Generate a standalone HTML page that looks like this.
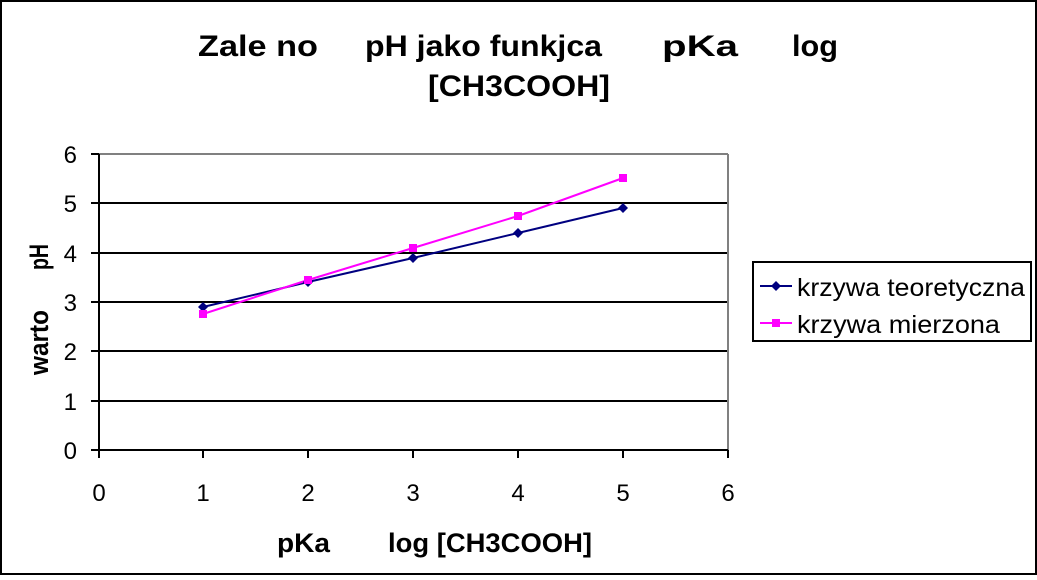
<!DOCTYPE html><html><head><style>body{margin:0;background:#fff}</style></head><body>
<svg width="1037" height="575" xmlns="http://www.w3.org/2000/svg" font-family="Liberation Sans, Arial, sans-serif">
<rect x="1" y="1" width="1035" height="573" fill="#fff" stroke="#000" stroke-width="2"/>
<g font-weight="bold" font-size="30">
<text x="198" y="56" textLength="120" lengthAdjust="spacingAndGlyphs">Zale  no</text>
<text x="365" y="56" textLength="237" lengthAdjust="spacingAndGlyphs">pH jako funkjca</text>
<text x="662" y="56" textLength="76" lengthAdjust="spacingAndGlyphs">pKa</text>
<text x="792" y="56" textLength="46" lengthAdjust="spacingAndGlyphs">log</text>
<text x="428" y="96" textLength="182" lengthAdjust="spacingAndGlyphs">[CH3COOH]</text>
<text x="277" y="552" font-size="27" textLength="53" lengthAdjust="spacingAndGlyphs">pKa</text>
<text x="388" y="552" font-size="27" textLength="204" lengthAdjust="spacingAndGlyphs">log [CH3COOH]</text>
<text transform="translate(48,375) rotate(-90)" font-size="27" textLength="65" lengthAdjust="spacingAndGlyphs">warto</text>
<text transform="translate(48,270) rotate(-90)" font-size="27" textLength="26" lengthAdjust="spacingAndGlyphs">pH</text>
</g>
<line x1="99" y1="154" x2="728" y2="154" stroke="#808080" stroke-width="2"/>
<g stroke="#000" stroke-width="2">
<line x1="99" y1="203" x2="728" y2="203"/><line x1="99" y1="253" x2="728" y2="253"/><line x1="99" y1="302" x2="728" y2="302"/><line x1="99" y1="351" x2="728" y2="351"/><line x1="99" y1="401" x2="728" y2="401"/>
<line x1="728" y1="154" x2="728" y2="450" stroke="#808080"/>
<line x1="99" y1="154" x2="99" y2="458"/><line x1="91" y1="450" x2="728" y2="450"/>
<line x1="91" y1="154" x2="99" y2="154"/><line x1="91" y1="203" x2="99" y2="203"/><line x1="91" y1="253" x2="99" y2="253"/><line x1="91" y1="302" x2="99" y2="302"/><line x1="91" y1="351" x2="99" y2="351"/><line x1="91" y1="401" x2="99" y2="401"/>
<line x1="203" y1="450" x2="203" y2="458"/><line x1="308" y1="450" x2="308" y2="458"/><line x1="413" y1="450" x2="413" y2="458"/><line x1="518" y1="450" x2="518" y2="458"/><line x1="623" y1="450" x2="623" y2="458"/><line x1="728" y1="450" x2="728" y2="458"/>
</g>
<g font-size="24" text-anchor="end">
<text x="77" y="163">6</text><text x="77" y="212">5</text><text x="77" y="262">4</text><text x="77" y="311">3</text><text x="77" y="360">2</text><text x="77" y="410">1</text><text x="77" y="459">0</text>
</g>
<g font-size="24" text-anchor="middle">
<text x="99" y="501">0</text><text x="203" y="501">1</text><text x="308" y="501">2</text><text x="413" y="501">3</text><text x="518" y="501">4</text><text x="623" y="501">5</text><text x="728" y="501">6</text>
</g>
<polyline points="203,307 308,282 413,258 518,233 623,208" fill="none" stroke="#000080" stroke-width="2"/>
<polyline points="203,314 308,280 413,248 518,216 623,178" fill="none" stroke="#ff00ff" stroke-width="2"/>
<g fill="#000080"><path d="M203,302l5,5-5,5-5-5z"/><path d="M308,277l5,5-5,5-5-5z"/><path d="M413,253l5,5-5,5-5-5z"/><path d="M518,228l5,5-5,5-5-5z"/><path d="M623,203l5,5-5,5-5-5z"/></g>
<g fill="#ff00ff"><rect x="199" y="310" width="8" height="8"/><rect x="304" y="276" width="8" height="8"/><rect x="409" y="244" width="8" height="8"/><rect x="514" y="212" width="8" height="8"/><rect x="619" y="174" width="8" height="8"/></g>
<rect x="753" y="262" width="278" height="79" fill="#fff" stroke="#000" stroke-width="2"/>
<line x1="760" y1="286" x2="792" y2="286" stroke="#000080" stroke-width="2"/><path d="M776,281l5,5-5,5-5-5z" fill="#000080"/>
<line x1="760" y1="323" x2="792" y2="323" stroke="#ff00ff" stroke-width="2"/><rect x="772" y="319" width="8" height="8" fill="#ff00ff"/>
<g font-size="25"><text x="797" y="296" textLength="228" lengthAdjust="spacingAndGlyphs">krzywa teoretyczna</text><text x="797" y="333" textLength="203" lengthAdjust="spacingAndGlyphs">krzywa mierzona</text></g>
</svg></body></html>
